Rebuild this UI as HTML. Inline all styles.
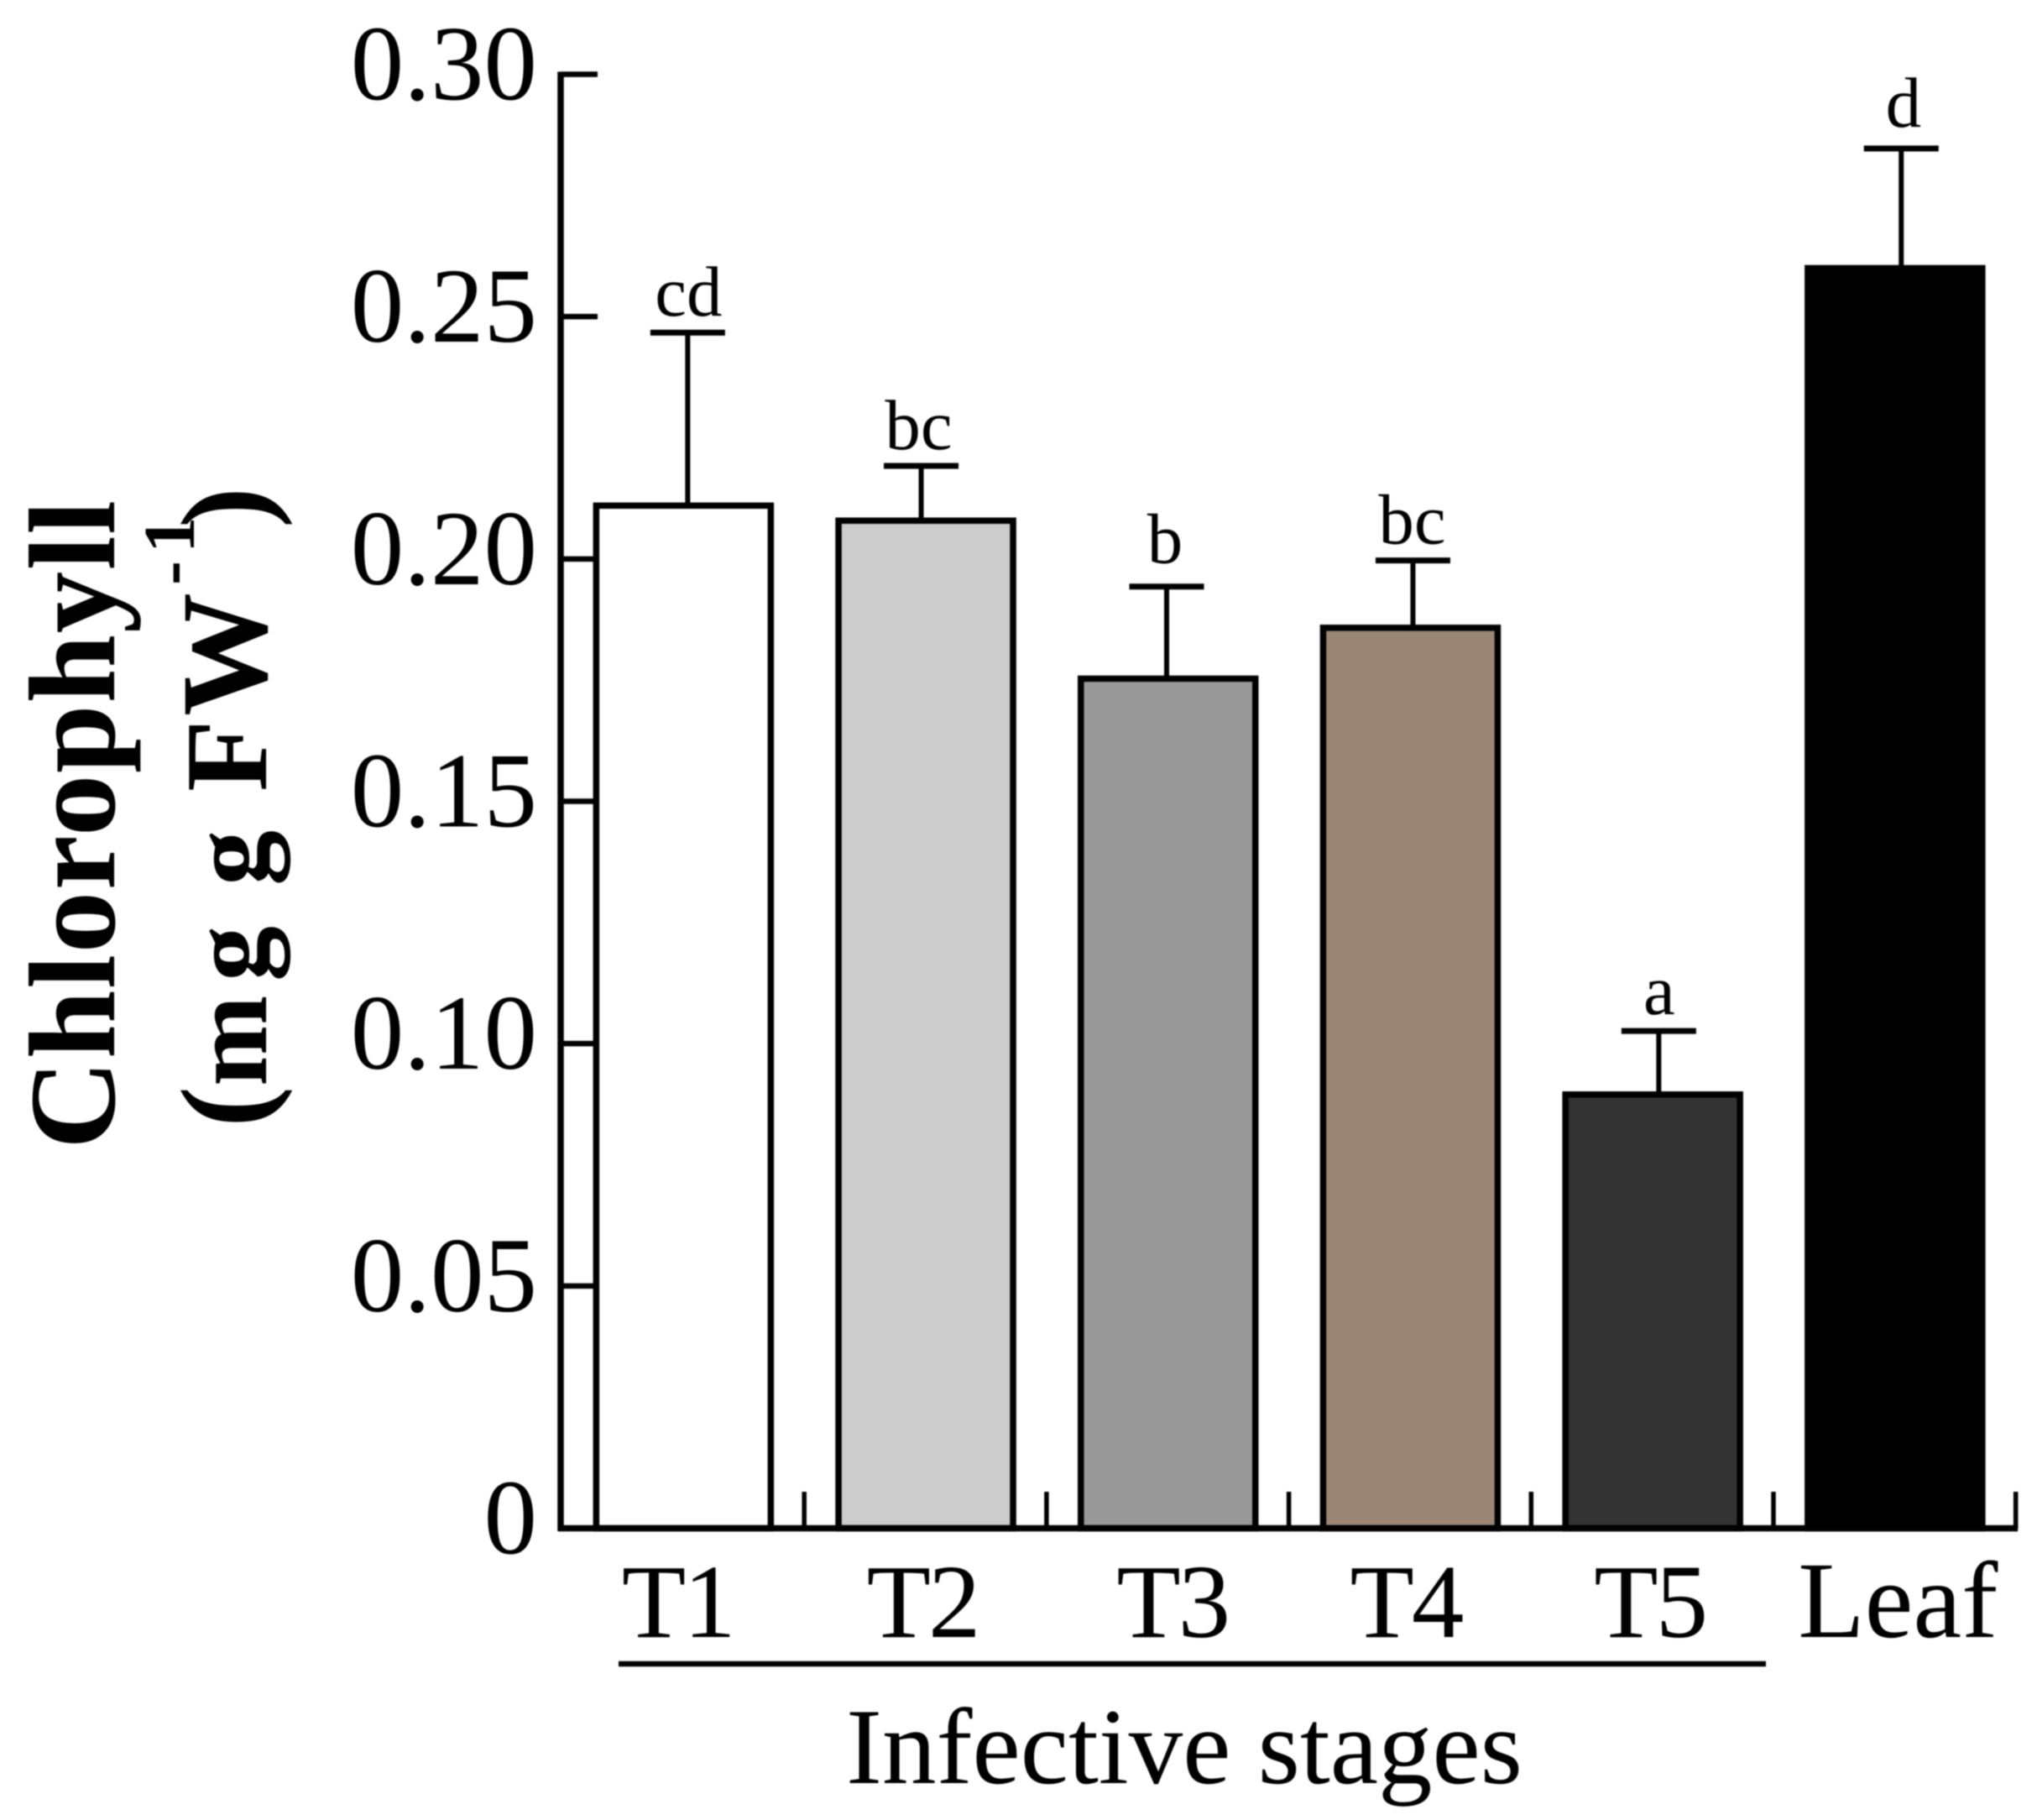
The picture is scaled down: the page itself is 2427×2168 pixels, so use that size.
<!DOCTYPE html>
<html lang="en">
<head>
<meta charset="utf-8">
<title>Chlorophyll by infective stage</title>
<style>
  html, body { margin: 0; padding: 0; background: #fff; }
  svg { display: block; filter: blur(0.7px); }
  text { font-family: "Liberation Serif", serif; fill: #000; }
</style>
</head>
<body>
<svg id="chart" xmlns="http://www.w3.org/2000/svg" width="2427" height="2168" viewBox="0 0 2427 2168">
  <rect x="0" y="0" width="2427" height="2168" fill="#fff"/>
  <text transform="translate(136,1369) rotate(-90)" font-size="147" font-weight="bold" letter-spacing="1.6">Chlorophyll</text>
  <text transform="translate(317,1349) rotate(-90)" font-size="147" font-weight="bold" style="font-kerning:none"><tspan x="6" y="0">(</tspan><tspan x="55" y="0" font-size="130">m</tspan><tspan x="180" y="0" font-size="132">g</tspan> <tspan x="294" y="0" font-size="132">g</tspan> <tspan x="406" y="0" font-size="140">F</tspan><tspan x="496" y="0">W</tspan><tspan x="652" y="-86" font-size="87">-</tspan><tspan x="690" y="-86" font-size="87">1</tspan><tspan x="720" y="0">)</tspan></text>
  <line x1="737" x2="2104" y1="1982" y2="1982" stroke="#000" stroke-width="6.5"/>
  <text x="1411" y="2124" font-size="129" text-anchor="middle">Infective stages</text>
</svg>
<script>
const categories = ["T1", "T2", "T3", "T4", "T5", "Leaf"];
const meanValues = [0.2110, 0.2079, 0.1753, 0.1858, 0.0895, 0.2600];
const errorTops = [0.2467, 0.2192, 0.1943, 0.1997, 0.1026, 0.2847];
const significanceLetters = ["cd", "bc", "b", "bc", "a", "d"];
const barColors = ["#ffffff", "#cccccc", "#999999", "#998675", "#333333", "#000000"];
const yTickValues = [0, 0.05, 0.10, 0.15, 0.20, 0.25, 0.30];
const yTickLabels = ["0", "0.05", "0.10", "0.15", "0.20", "0.25", "0.30"];

const svg = document.getElementById('chart');
const NS = 'http://www.w3.org/2000/svg';
const plot = { left: 670, bottom: 1820.5, top: 88.5, band: 288.7, barWidth: 208, yMax: 0.30 };

function yScale(v) {
  return plot.bottom - (v / plot.yMax) * (plot.bottom - plot.top);
}
function xBandStart(i) {
  return plot.left + i * plot.band;
}
function xCenter(i) {
  return xBandStart(i) + plot.band / 2;
}
function make(tag, attrs, text) {
  const el = document.createElementNS(NS, tag);
  for (const k in attrs) el.setAttribute(k, attrs[k]);
  if (text !== undefined) el.textContent = text;
  svg.appendChild(el);
  return el;
}

/* small hand-placement nudges of the original figure, per category slot */
function stemNudge(i) { return [5, -5.5, -1.75, 3, 7.2, 7.4][i]; }
function labelNudge(i) { return [-7, -4, 5, -5.5, -3.5, 3.5][i]; }
function letterNudge(i) { return [6, -8.5, -3.75, 2, 7.7, 10][i]; }
function letterLift(i) { return [20, 20, 28, 20, 20, 26][i]; }

/* y axis */
const yLine = make('line', { x1: 668, x2: 668, y1: plot.top - 3, y2: plot.bottom + 3.5, stroke: '#000', 'stroke-width': 7.5 });



yTickValues.forEach(function (v, i) {
  const t = make('line', { x1: 668, x2: 712, y1: yScale(v), y2: yScale(v), stroke: '#000', 'stroke-width': 6.5 });
  
  
  const lab = make('text', { x: 640, y: yScale(v) + 30, 'font-size': 127, 'text-anchor': 'end' }, yTickLabels[i]);
  
  
});

/* x axis ticks at band boundaries */
categories.forEach(function (c, i) {
  const x = xBandStart(i + 1) - 0.5;
  const t = make('line', { x1: x, x2: x, y1: 1777, y2: plot.bottom, stroke: '#000', 'stroke-width': 5.5 });
  
  
});

/* error bars and bars */
categories.forEach(function (c, i) {
  const cx = xCenter(i);
  const sx = cx + stemNudge(i);
  const stem = make('line', { x1: sx, x2: sx, y1: yScale(errorTops[i]), y2: yScale(meanValues[i]), stroke: '#000', 'stroke-width': 6 });
  
  
  const cap = make('line', { x1: sx - 44.5, x2: sx + 44.5, y1: yScale(errorTops[i]), y2: yScale(errorTops[i]), stroke: '#000', 'stroke-width': 7 });
  
  
  const bar = make('rect', {
    x: cx - plot.barWidth / 2, y: yScale(meanValues[i]),
    width: plot.barWidth, height: plot.bottom - yScale(meanValues[i]),
    fill: barColors[i], stroke: '#000', 'stroke-width': 7.5
  });
  
  
  const letter = make('text', { x: cx + letterNudge(i), y: yScale(errorTops[i]) - letterLift(i), 'font-size': 85, 'text-anchor': 'middle' }, significanceLetters[i]);
  
  
  const isStage = i < 5;
  const lab = make('text', { x: cx + labelNudge(i), y: 1950, 'font-size': isStage ? 125 : 130, 'letter-spacing': isStage ? -3 : 0, 'text-anchor': 'middle' }, c);
  
  
});

/* x axis line */
const xLine = make('line', { x1: 665, x2: xBandStart(6) + 2, y1: plot.bottom, y2: plot.bottom, stroke: '#000', 'stroke-width': 7.5 });


</script>
</body>
</html>
